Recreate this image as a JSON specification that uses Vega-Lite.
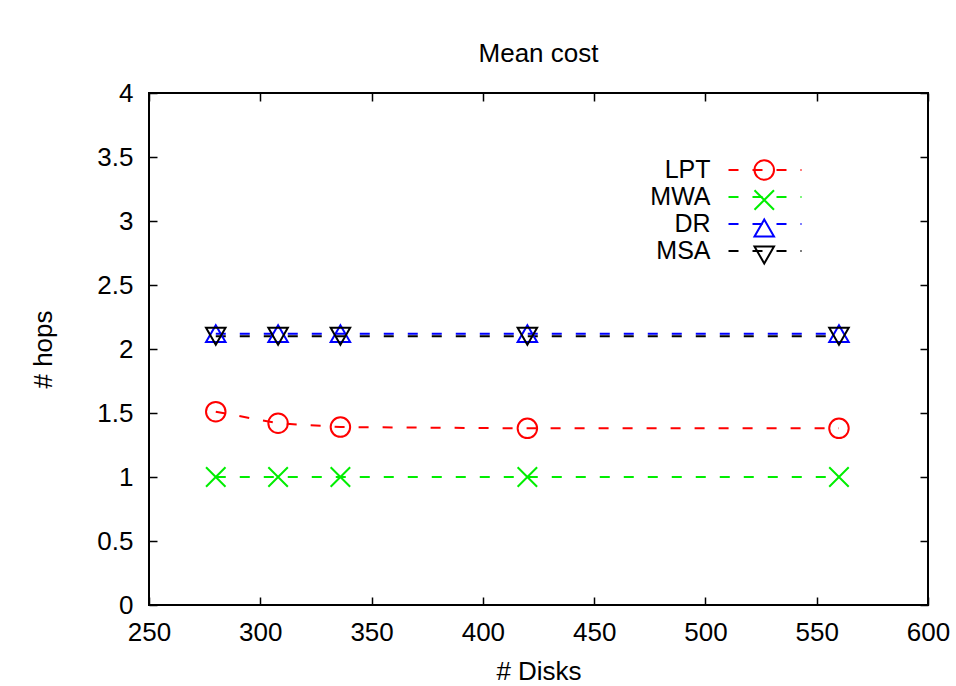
{
  "$schema": "https://vega.github.io/schema/vega-lite/v6.json",
  "width": 779,
  "height": 512,
  "autosize": {"type": "none"},
  "padding": {"left": 149, "top": 93, "right": 28, "bottom": 81},
  "background": "white",
  "title": {"text": "Mean cost", "fontSize": 26, "fontWeight": "normal", "font": "Liberation Sans", "color": "black", "anchor": "middle", "offset": 13},
  "config": {
    "font": "Liberation Sans",
    "view": {"stroke": "black", "strokeWidth": 2},
    "axis": {
      "domain": false, "grid": false, "labelFlush": false,
      "tickColor": "black", "tickSize": -8, "tickWidth": 1.5,
      "labelFontSize": 26, "labelColor": "black", "labelFont": "Liberation Sans",
      "titleFontSize": 26, "titleFontWeight": "normal", "titleColor": "black", "titleFont": "Liberation Sans"
    },
    "legend": {"padding": 0}
  },
  "data": {"values": [
    {"disks": 280, "hops": 1.51, "series": "LPT"},
    {"disks": 308, "hops": 1.42, "series": "LPT"},
    {"disks": 336, "hops": 1.39, "series": "LPT"},
    {"disks": 420, "hops": 1.38, "series": "LPT"},
    {"disks": 560, "hops": 1.38, "series": "LPT"},
    {"disks": 280, "hops": 1.0, "series": "MWA"},
    {"disks": 308, "hops": 1.0, "series": "MWA"},
    {"disks": 336, "hops": 1.0, "series": "MWA"},
    {"disks": 420, "hops": 1.0, "series": "MWA"},
    {"disks": 560, "hops": 1.0, "series": "MWA"},
    {"disks": 280, "hops": 2.12, "series": "DR"},
    {"disks": 308, "hops": 2.12, "series": "DR"},
    {"disks": 336, "hops": 2.12, "series": "DR"},
    {"disks": 420, "hops": 2.12, "series": "DR"},
    {"disks": 560, "hops": 2.12, "series": "DR"},
    {"disks": 280, "hops": 2.1, "series": "MSA"},
    {"disks": 308, "hops": 2.1, "series": "MSA"},
    {"disks": 336, "hops": 2.1, "series": "MSA"},
    {"disks": 420, "hops": 2.1, "series": "MSA"},
    {"disks": 560, "hops": 2.1, "series": "MSA"}
  ]},
  "layer": [
    {
      "mark": {"type": "line", "strokeDash": [10, 14], "strokeWidth": 2},
      "encoding": {
        "x": {"field": "disks", "type": "quantitative", "scale": {"domain": [250, 600], "nice": false},
              "axis": {"orient": "bottom", "title": "# Disks", "values": [250, 300, 350, 400, 450, 500, 550, 600], "format": "d", "labelPadding": 22, "titlePadding": 13}},
        "y": {"field": "hops", "type": "quantitative", "scale": {"domain": [0, 4], "nice": false},
              "axis": {"orient": "left", "title": "# hops", "values": [0, 0.5, 1, 1.5, 2, 2.5, 3, 3.5, 4], "format": "~g", "labelPadding": 24, "titlePadding": 40}},
        "stroke": {"field": "series", "type": "nominal", "sort": ["LPT", "MWA", "DR", "MSA"],
                  "scale": {"range": ["#ff0000", "#00ee00", "#0000ff", "#000000"]},
                  "legend": {"title": null, "orient": "none", "legendX": 603.5, "legendY": 64.5, "labelAlign": "right", "labelOffset": -67, "labelFontSize": 25, "labelColor": "black", "rowPadding": 1,
                             "symbolType": "M-4,0H4", "symbolSize": 333, "symbolDash": [10, 14], "symbolStrokeWidth": 2, "symbolFillColor": "transparent"}}
      }
    },
    {
      "mark": {"type": "point", "filled": false, "strokeWidth": 2, "size": 380, "opacity": 1},
      "encoding": {
        "x": {"field": "disks", "type": "quantitative", "axis": {"orient": "top", "title": null, "labels": false, "values": [250, 300, 350, 400, 450, 500, 550, 600]}},
        "y": {"field": "hops", "type": "quantitative", "axis": {"orient": "right", "title": null, "labels": false, "values": [0, 0.5, 1, 1.5, 2, 2.5, 3, 3.5, 4]}},
        "color": {"field": "series", "type": "nominal",
                  "scale": {"domain": ["LPT", "MWA", "DR", "MSA"], "range": ["#ff0000", "#00ee00", "#0000ff", "#000000"]},
                  "legend": {"title": null, "orient": "none", "legendX": 602.75, "legendY": 64.5, "labelOpacity": 0, "labelFontSize": 25, "rowPadding": 1, "symbolSize": 380, "symbolStrokeWidth": 2, "symbolFillColor": "white", "symbolOpacity": 1}},
        "shape": {"field": "series", "type": "nominal",
                  "scale": {"domain": ["LPT", "MWA", "DR", "MSA"], "range": ["circle", "M-1,-1L1,1M-1,1L1,-1", "triangle-up", "triangle-down"]}}
      }
    }
  ],
  "resolve": {"axis": {"x": "independent", "y": "independent"}}
}
